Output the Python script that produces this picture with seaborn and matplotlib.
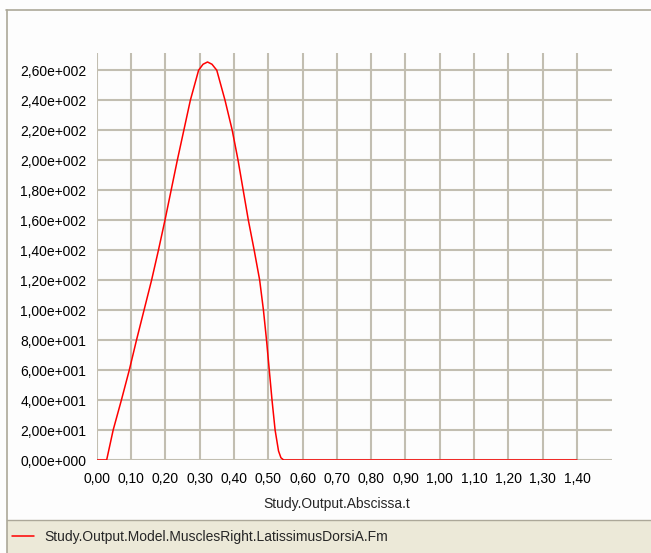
import numpy as np
import pandas as pd
import seaborn as sns
import matplotlib.pyplot as plt
from matplotlib.lines import Line2D
from matplotlib.patches import Rectangle
from matplotlib.ticker import FuncFormatter

# curve
t = [0.00, 0.029, 0.048, 0.072, 0.095, 0.116, 0.138, 0.160, 0.180, 0.199,
     0.217, 0.235, 0.254, 0.273, 0.297, 0.310, 0.323, 0.336, 0.350, 0.374,
     0.395, 0.412, 0.427, 0.442, 0.459, 0.475, 0.486, 0.495, 0.503, 0.511,
     0.520, 0.530, 0.537, 0.545, 1.40]
fm = [0, 0, 20, 40, 60, 80, 100, 120, 140, 160,
      180, 200, 220, 240, 260, 264, 265.5, 264, 260, 240,
      220, 200, 180, 160, 140, 120, 100, 80, 60, 40,
      20, 6, 1.5, 0, 0]
x_ticks = [0.0, 0.1, 0.2, 0.3, 0.4, 0.5, 0.6, 0.7, 0.8, 0.9, 1.0, 1.1, 1.2, 1.3, 1.4]
y_ticks = [0, 20, 40, 60, 80, 100, 120, 140, 160, 180, 200, 220, 240, 260]
series_name = 'Study.Output.Model.MusclesRight.LatissimusDorsiA.Fm'
x_label = 'Study.Output.Abscissa.t'

df = pd.DataFrame({'t': t, 'Fm': fm})

sns.set_style('white')
plt.rcParams['font.family'] = ['Liberation Sans', 'DejaVu Sans']
grid_col = '#c2beb1'

fig = plt.figure(figsize=(6.51, 5.53), dpi=100)
fig.patch.set_facecolor('#fdfdfd')
ax = fig.add_axes([96.7 / 651, 1 - 460 / 553, (612 - 96.7) / 651, (460 - 53) / 553])
ax.set_facecolor('#fdfdfd')

sns.lineplot(data=df, x='t', y='Fm', sort=False, estimator=None, color='#ff0000',
             linewidth=1.1, ax=ax, label=series_name, legend=False)

ax.set_xlim(0, 1.502)
ax.set_ylim(0, 271.5)
ax.set_xticks(x_ticks)
ax.set_yticks(y_ticks)


def y_fmt(v, pos):
    if v == 0:
        return '0,00e+000'
    e = int(np.floor(np.log10(abs(v))))
    m = v / 10 ** e
    return f'{m:.2f}'.replace('.', ',') + f'e+{e:03d}'


ax.yaxis.set_major_formatter(FuncFormatter(y_fmt))
ax.xaxis.set_major_formatter(FuncFormatter(lambda v, p: f'{v:.2f}'.replace('.', ',')))
ax.grid(True, color=grid_col, linewidth=1.5)
for s in ax.spines.values():
    s.set_visible(False)
ax.tick_params(axis='both', colors=grid_col, length=4.5, width=1.5, labelcolor='#000000',
               labelsize=10)
ax.tick_params(axis='y', pad=3)
ax.tick_params(axis='x', pad=4)
ax.set_ylabel('')
ax.set_xlabel(x_label, fontsize=10)
ax.xaxis.set_label_coords((336.7 - 96.7) / (612 - 96.7), -(497 - 460) / 407)

# window frame and legend strip
fig.add_artist(Line2D([6 / 651, 1], [1 - 9.5 / 553] * 2, transform=fig.transFigure,
                      color='#aca899', linewidth=1.2))
fig.add_artist(Line2D([6.5 / 651] * 2, [0, 1 - 9.5 / 553], transform=fig.transFigure,
                      color='#aca899', linewidth=1.2))
fig.add_artist(Rectangle((7 / 651, 0), 1, 1 - 521 / 553, transform=fig.transFigure,
                         facecolor='#ece9d8', edgecolor='none'))
fig.add_artist(Line2D([7 / 651, 1], [1 - 519.5 / 553] * 2, transform=fig.transFigure,
                      color='#aca899', linewidth=1.0))

handles, labels = ax.get_legend_handles_labels()
fig.legend(handles, labels, loc='center left', bbox_to_anchor=(12 / 651, 1 - 537 / 553),
           frameon=False, fontsize=10, handlelength=1.6, handletextpad=0.7,
           borderaxespad=0, borderpad=0)

fig.savefig('out.png', dpi=100, facecolor=fig.get_facecolor())
